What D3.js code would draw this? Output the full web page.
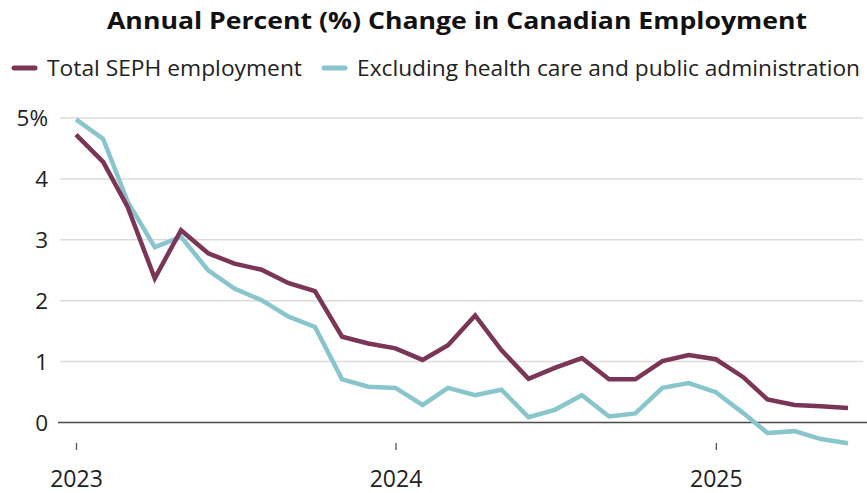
<!DOCTYPE html>
<html>
<head>
<meta charset="utf-8">
<script src="https://cdn.jsdelivr.net/npm/d3@7"></script>
<style>
  html, body { margin: 0; padding: 0; background: #fff; }
  svg { display: block; }
  text { font-family: "Open Sans", "Noto Sans", sans-serif; }
</style>
</head>
<body>
<svg id="chart" width="867" height="493"></svg>
<script>
// Monthly annual % change, Jan 2023 – Jun 2025
const months = [
  "2023-01","2023-02","2023-03","2023-04","2023-05","2023-06","2023-07","2023-08","2023-09","2023-10","2023-11","2023-12",
  "2024-01","2024-02","2024-03","2024-04","2024-05","2024-06","2024-07","2024-08","2024-09","2024-10","2024-11","2024-12",
  "2025-01","2025-02","2025-03","2025-04","2025-05","2025-06"
];
const totalSEPH = [
  4.72, 4.27, 3.53, 2.36, 3.15, 2.77, 2.60, 2.50, 2.28, 2.15, 1.40, 1.29,
  1.21, 1.02, 1.26, 1.75, 1.18, 0.71, 0.89, 1.05, 0.70, 0.70, 1.00, 1.10,
  1.03, 0.74, 0.37, 0.28, 0.26, 0.23
];
const excludingHealthPublic = [
  4.97, 4.65, 3.62, 2.87, 3.04, 2.49, 2.19, 2.00, 1.73, 1.56, 0.70, 0.58,
  0.56, 0.28, 0.56, 0.44, 0.53, 0.08, 0.20, 0.44, 0.09, 0.14, 0.56, 0.64,
  0.49, 0.15, -0.18, -0.15, -0.28, -0.35
];
const yTicks = [0, 1, 2, 3, 4, 5];
const yearTicks = ["2023-01", "2024-01", "2025-01"];
const seriesNames = ["Total SEPH employment", "Excluding health care and public administration"];
const seriesColors = ["#7a3557", "#89c5cc"];
const titleText = "Annual Percent (%) Change in Canadian Employment";

const parse = d3.timeParse("%Y-%m");
const dates = months.map(parse);

const svg = d3.select("#chart");

const x = d3.scaleTime()
  .domain([dates[0], dates[dates.length - 1]])
  .range([76, 848]);
const y = d3.scaleLinear()
  .domain([0, 5])
  .range([422, 117.5]);

// Title
svg.append("text")
  .attr("x", 107)
  .attr("y", 28.5)
  .attr("font-size", 24)
  .attr("font-weight", 700)
  .attr("fill", "#111")
  .attr("textLength", 700)
  .attr("lengthAdjust", "spacingAndGlyphs")
  .text(titleText);

// Legend
const legendItems = [
  { name: seriesNames[0], color: seriesColors[0], sx: 14, tx: 47, w: 255 },
  { name: seriesNames[1], color: seriesColors[1], sx: 324, tx: 357, w: 503 }
];
const legend = svg.append("g");
legendItems.forEach(d => {
  legend.append("line")
    .attr("x1", d.sx).attr("x2", d.sx + 21)
    .attr("y1", 68).attr("y2", 68)
    .attr("stroke", d.color)
    .attr("stroke-width", 5)
    .attr("stroke-linecap", "round");
  legend.append("text")
    .attr("x", d.tx).attr("y", 75.5)
    .attr("font-size", 21.5)
    .attr("fill", "#222")
    .attr("textLength", d.w)
    .attr("lengthAdjust", "spacingAndGlyphs")
    .text(d.name);
});

// Horizontal gridlines and y labels
const yAxis = d3.axisLeft(y)
  .tickValues(yTicks)
  .tickSize(0)
  .tickPadding(0)
  .tickFormat(d => d === 5 ? "5%" : String(d));
const yg = svg.append("g").attr("transform", "translate(48,0)").call(yAxis);
yg.select(".domain").remove();
yg.selectAll(".tick text")
  .attr("font-family", "'Open Sans', sans-serif")
  .attr("font-size", 22.5)
  .attr("fill", "#222")
  .attr("x", 0)
  .attr("dy", "0.36em");
yg.selectAll(".tick")
  .append("line")
  .attr("x1", d => d === 0 ? 10 : 12)
  .attr("x2", d => d === 0 ? 819 : 815)
  .attr("stroke", d => d === 0 ? "#4a4a4a" : "#dcdcdc")
  .attr("stroke-width", d => d === 0 ? 1.6 : 1.5);

// Year ticks and labels along the bottom
const xAxis = d3.axisBottom(x)
  .tickValues(yearTicks.map(parse))
  .tickSize(7)
  .tickPadding(30)
  .tickFormat(d3.timeFormat("%Y"));
const xg = svg.append("g").attr("transform", "translate(0,443)").call(xAxis);
xg.select(".domain").remove();
xg.selectAll(".tick line").attr("stroke", "#555").attr("stroke-width", 1.3);
xg.selectAll(".tick text")
  .attr("font-family", "'Open Sans', sans-serif")
  .attr("font-size", 23)
  .attr("fill", "#222")
  .attr("y", 0)
  .attr("dy", 43.5);

// Series lines
const line = d3.line()
  .x((d, i) => x(dates[i]))
  .y(d => y(d));

[excludingHealthPublic, totalSEPH].forEach((vals, k) => {
  svg.append("path")
    .datum(vals)
    .attr("fill", "none")
    .attr("stroke", k === 0 ? seriesColors[1] : seriesColors[0])
    .attr("stroke-width", 4.5)
    .attr("stroke-linejoin", "miter")
    .attr("stroke-linecap", "butt")
    .attr("d", line);
});
</script>
</body>
</html>
